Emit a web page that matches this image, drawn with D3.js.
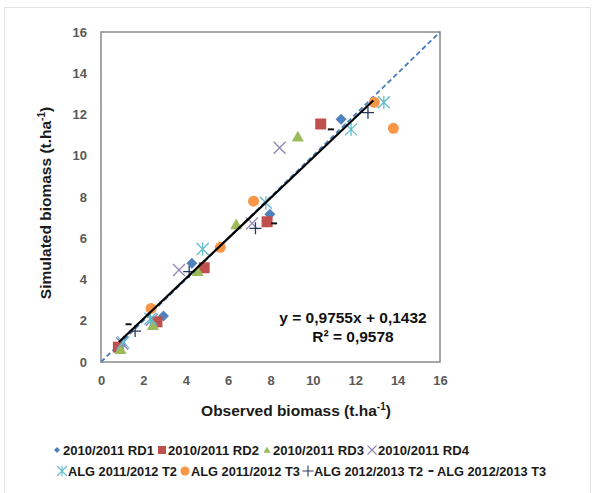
<!DOCTYPE html>
<html>
<head>
<meta charset="utf-8">
<script src="https://cdn.jsdelivr.net/npm/d3@7"></script>
<style>
  html, body { margin: 0; padding: 0; background: #fff; }
  svg { display: block; }
  text { font-family: "Liberation Sans", Arial, sans-serif; }
</style>
</head>
<body>
<svg id="chart" width="593" height="493"></svg>
<script>
// Observed vs simulated biomass (t/ha), one [observed, simulated] pair per point
const rd1_2010 = [[0.95, 0.85], [2.95, 2.23], [4.29, 4.79], [7.97, 7.16], [11.33, 11.77]];
const rd2_2010 = [[0.82, 0.72], [2.64, 1.95], [4.87, 4.57], [7.84, 6.80], [10.37, 11.54]];
const rd3_2010 = [[0.92, 0.62], [2.45, 1.79], [4.56, 4.40], [6.38, 6.67], [9.29, 10.92]];
const rd4_2010 = [[1.00, 0.90], [2.40, 2.05], [3.68, 4.46], [7.13, 6.72], [8.43, 10.39]];
const algT2_2011 = [[1.05, 0.95], [2.33, 2.10], [4.80, 5.48], [7.78, 7.72], [11.80, 11.28], [13.35, 12.59]];
const algT3_2011 = [[2.36, 2.60], [5.63, 5.56], [7.20, 7.80], [12.90, 12.59], [13.80, 11.33]];
const algT2_2012 = [[1.61, 1.50], [4.16, 4.38], [7.29, 6.48], [12.60, 12.09]];
const algT3_2012 = [[1.30, 1.83], [8.17, 6.72], [10.85, 11.28]];

const seriesNames = [
  "2010/2011 RD1", "2010/2011 RD2", "2010/2011 RD3", "2010/2011 RD4",
  "ALG 2011/2012 T2", "ALG 2011/2012 T3", "ALG 2012/2013 T2", "ALG 2012/2013 T3"
];
const seriesData = [rd1_2010, rd2_2010, rd3_2010, rd4_2010, algT2_2011, algT3_2011, algT2_2012, algT3_2012];
const seriesMarkers = ["diamond", "square", "triangle", "cross", "star", "circle", "plus", "dash"];
const seriesColors = ["#4f81bd", "#c0504d", "#9bbb59", "#8f86b0", "#62bccc", "#f79646", "#2b3a5e", "#111111"];

// Linear regression reported on the chart
const slope = 0.9755, intercept = 0.1432, r2 = 0.9578;
const fitRange = [0.85, 12.85];

const axisTicks = [0, 2, 4, 6, 8, 10, 12, 14, 16];
const xTitle = "Observed biomass (t.ha", yTitle = "Simulated biomass (t.ha";

const svg = d3.select("#chart");
const plot = { left: 101, right: 440, top: 32, bottom: 362 };

const x = d3.scaleLinear().domain([0, 16]).range([plot.left, plot.right]);
const y = d3.scaleLinear().domain([0, 16]).range([plot.bottom, plot.top]);

// outer frame
svg.append("rect").attr("x", 4.5).attr("y", 7.5).attr("width", 586).attr("height", 495)
  .attr("fill", "none").attr("stroke", "#e2e2e2").attr("stroke-width", 1);

// plot frame
svg.append("rect")
  .attr("x", plot.left).attr("y", plot.top)
  .attr("width", plot.right - plot.left).attr("height", plot.bottom - plot.top)
  .attr("fill", "none").attr("stroke", "#8a8a8a").attr("stroke-width", 1.5);

// axes (labels only)
const xAxis = d3.axisBottom(x).tickValues(axisTicks).tickSize(0).tickPadding(14);
const yAxis = d3.axisLeft(y).tickValues(axisTicks).tickSize(0).tickPadding(14);
const gx = svg.append("g").attr("transform", `translate(0,${plot.bottom})`).call(xAxis);
const gy = svg.append("g").attr("transform", `translate(${plot.left},0)`).call(yAxis);
[gx, gy].forEach(g => {
  g.select(".domain").remove();
  g.selectAll("text").attr("fill", "#595959").attr("font-size", 13).attr("font-weight", "bold")
    .style("font-family", "'Liberation Sans', Arial, sans-serif");
});

// 1:1 reference line
svg.append("line")
  .attr("x1", x(0)).attr("y1", y(0)).attr("x2", x(16)).attr("y2", y(16))
  .attr("stroke", "#4a7ebb").attr("stroke-width", 1.8).attr("stroke-dasharray", "5,3");

// marker shapes
function markerPath(type, s) {
  const h = s / 2;
  switch (type) {
    case "diamond": return `M0,${-h}L${h},0L0,${h}L${-h},0Z`;
    case "square": return `M${-h},${-h}H${h}V${h}H${-h}Z`;
    case "triangle": return `M0,${-h}L${h},${h * 0.8}L${-h},${h * 0.8}Z`;
    case "circle": return `M${h},0A${h},${h} 0 1,1 ${-h},0A${h},${h} 0 1,1 ${h},0Z`;
    case "cross": return `M${-h},${-h}L${h},${h}M${h},${-h}L${-h},${h}`;
    case "star": return `M${-h},${-h}L${h},${h}M${h},${-h}L${-h},${h}M0,${-h * 1.1}V${h * 1.1}`;
    case "plus": return `M${-h},0H${h}M0,${-h}V${h}`;
    case "dash": return `M${-h * 0.55},0H${h * 0.55}`;
  }
}
const filled = t => ["diamond", "square", "triangle", "circle"].includes(t);
const markerSize = { diamond: 11, square: 11, triangle: 12, circle: 11, cross: 12, star: 12, plus: 12, dash: 11 };

// series points
seriesData.forEach((pts, i) => {
  const t = seriesMarkers[i], c = seriesColors[i];
  svg.append("g").selectAll("path").data(pts).join("path")
    .attr("transform", d => `translate(${x(d[0])},${y(d[1])})`)
    .attr("d", markerPath(t, markerSize[t]))
    .attr("fill", filled(t) ? c : "none")
    .attr("stroke", filled(t) ? "none" : c)
    .attr("stroke-width", t === "dash" ? 2 : 1.3);
});

// trend line
svg.append("line")
  .attr("x1", x(fitRange[0])).attr("y1", y(slope * fitRange[0] + intercept))
  .attr("x2", x(fitRange[1])).attr("y2", y(slope * fitRange[1] + intercept))
  .attr("stroke", "#000").attr("stroke-width", 2.2);

// equation label
const fmt = v => v.toFixed(4).replace(".", ",");
svg.append("text").attr("x", 353).attr("y", 323).attr("text-anchor", "middle")
  .attr("font-size", 15.5).attr("font-weight", "bold").attr("fill", "#111")
  .text(`y = ${fmt(slope)}x + ${fmt(intercept)}`);
svg.append("text").attr("x", 353).attr("y", 342).attr("text-anchor", "middle")
  .attr("font-size", 15.5).attr("font-weight", "bold").attr("fill", "#111")
  .text(`R² = ${fmt(r2)}`);

// axis titles
const xt = svg.append("text").attr("x", 296).attr("y", 416).attr("text-anchor", "middle")
  .attr("font-size", 15.5).attr("font-weight", "bold").attr("fill", "#1a1a1a");
xt.append("tspan").text(xTitle);
xt.append("tspan").attr("dy", -6).attr("font-size", 10).text("-1");
xt.append("tspan").attr("dy", 6).text(")");

const yt = svg.append("text").attr("transform", "translate(51,203) rotate(-90)").attr("text-anchor", "middle")
  .attr("font-size", 15.5).attr("font-weight", "bold").attr("fill", "#1a1a1a");
yt.append("tspan").text(yTitle);
yt.append("tspan").attr("dy", -6).attr("font-size", 10).text("-1");
yt.append("tspan").attr("dy", 6).text(")");

// legend, two rows; labels squeezed to a condensed width
const legendRows = [
  { items: [0, 1, 2, 3], x0: 57, y: 450, w: 91 },
  { items: [4, 5, 6, 7], x0: 62, y: 471, w: 109 }
];
const legendSize = { diamond: 6, square: 8, triangle: 7, circle: 9, cross: 9, star: 10, plus: 11, dash: 9 };
legendRows.forEach(row => {
  let cx = row.x0;
  row.items.forEach(i => {
    const t = seriesMarkers[i], c = seriesColors[i];
    svg.append("path").attr("transform", `translate(${cx},${row.y})`)
      .attr("d", markerPath(t, legendSize[t]))
      .attr("fill", filled(t) ? c : "none")
      .attr("stroke", filled(t) ? "none" : c)
      .attr("stroke-width", t === "dash" ? 1.8 : 1.1);
    svg.append("text").attr("x", cx + 6).attr("y", row.y + 4.5)
      .attr("font-size", 13).attr("font-weight", "bold").attr("fill", "#1a1a1a")
      .attr("textLength", row.w).attr("lengthAdjust", "spacingAndGlyphs")
      .text(seriesNames[i]);
    cx = cx + 6 + row.w + 8;
  });
});
</script>
</body>
</html>
